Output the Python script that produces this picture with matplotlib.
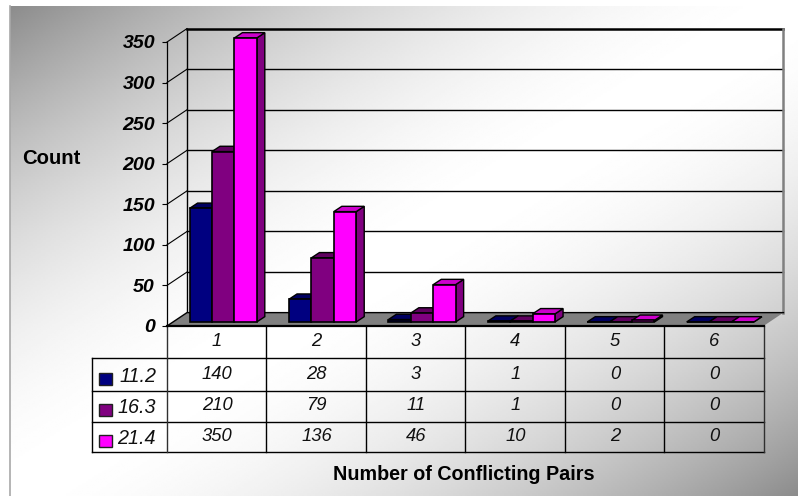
import numpy as np
import matplotlib
matplotlib.use("Agg")
import matplotlib.pyplot as plt

cats = ["1", "2", "3", "4", "5", "6"]
s_112 = [140, 28, 3, 1, 0, 0]
s_163 = [210, 79, 11, 1, 0, 0]
s_214 = [350, 136, 46, 10, 2, 0]
series_names = ["11.2", "16.3", "21.4"]
y_ticks = [0, 50, 100, 150, 200, 250, 300, 350]

all_series = [s_112, s_163, s_214]
face = ["#000080", "#800080", "#ff00ff"]
top = ["#000060", "#600060", "#cc00cc"]
side = ["#000050", "#500050", "#800080"]

plt.rcParams["font.family"] = ["Liberation Sans", "DejaVu Sans"]
W, H = 798, 496
fig = plt.figure(figsize=(W / 100, H / 100), dpi=100, facecolor="white")

# background layer in pixel coords, holds gradient and the data table
bg = fig.add_axes([0, 0, 1, 1])
bg.set_xlim(0, W)
bg.set_ylim(H, 0)
bg.axis("off")
xx, yy = np.meshgrid(np.linspace(0, 1, 400), np.linspace(0, 1, 250))
t = np.abs(xx + yy - 1)
grad = 1 - 0.45 * t ** 1.8
bg.imshow(grad, cmap="gray", vmin=0, vmax=1, extent=(9.5, W, H, 6), aspect="auto", interpolation="bilinear")
bg.set_xlim(0, W)
bg.set_ylim(H, 0)
bg.plot([9.5, 9.5], [6, H], color="#a8a8a8", lw=1.2)

x0, x1 = 167, 763.5
cw = (x1 - x0) / 6
row_y = [326, 358, 391, 422, 452]
for y in row_y[1:]:
    bg.plot([92, x1], [y, y], color="black", lw=1.0)
bg.plot([92, 92], [358, 452], color="black", lw=1.0)
for i in range(7):
    bg.plot([x0 + i * cw] * 2, [326, 452], color="#303030" if i in (0, 6) else "black", lw=1.0)

tfont = dict(fontsize=13.2, style="italic", ha="center", va="center", color="#101010")
for i, c in enumerate(cats):
    bg.text(x0 + (i + 0.5) * cw, 342, c, **tfont)
    for j, s in enumerate(all_series):
        bg.text(x0 + (i + 0.5) * cw + 0.5, [374.5, 405.5, 436.5][j], str(s[i]), **tfont)
for j, name in enumerate(series_names):
    ky = [373, 404, 435][j]
    bg.add_patch(plt.Rectangle((99, ky), 13, 12, fc=face[j], ec="#202020", lw=1.0))
    bg.text(156, ky + 3.5, name, fontsize=14.2, style="italic", ha="right", va="center", color="#101010")

bg.text(51.5, 159, "Count", fontsize=14.6, weight="bold", ha="center", va="center")
bg.text(464, 475, "Number of Conflicting Pairs", fontsize=14.2, weight="bold", ha="center", va="center")

# chart axes sits on the front plane of the 3d box
ax = fig.add_axes([x0 / W, 1 - 326 / H, (x1 - x0) / W, (326 - 42) / H])
ax.patch.set_visible(False)
ax.set_xlim(0, 6)
ax.set_ylim(0, 350)
for sp in ["top", "right", "bottom"]:
    ax.spines[sp].set_visible(False)
ax.spines["left"].set_linewidth(0.9)
ax.set_xticks([])
ax.set_yticks(y_ticks)
ax.tick_params(axis="y", length=3.6, width=0.8, pad=5, labelsize=14)
for lab in ax.get_yticklabels():
    lab.set_fontweight("bold")
    lab.set_fontstyle("italic")

dx, dy = 20 / cw, 16.5
# walls and floor
for v in y_ticks[1:]:
    ax.plot([0, dx], [v, v + dy], color="black", lw=0.8, clip_on=False, zorder=1)
    ax.plot([dx, 6 + dx], [v + dy, v + dy], color="black", lw=1.0 if v < 350 else 1.8, clip_on=False, zorder=1)
ax.plot([dx, dx], [0 + dy, 350 + dy], color="black", lw=1.0, clip_on=False, zorder=1)
ax.plot([6 + dx, 6 + dx], [dy, 350 + dy], color="#808080", lw=1.8, clip_on=False, zorder=1)
ax.fill([0, 6, 6 + dx, dx], [0, 0, dy, dy], color="#808080", clip_on=False, zorder=2, lw=0)
ax.plot([0, 6], [0, 0], color="black", lw=1.6, clip_on=False, zorder=2)
ax.plot([0, dx, 6 + dx], [0, dy, dy], color="black", lw=1.0, clip_on=False, zorder=2)

# 3d bars, drawn left to right so later ones cover the earlier sides
bw = 22.4 / cw
off_x, off_y = 6.5 / cw, 5
dep_x, dep_y = 8 / cw, 6.5
z = 3
for i in range(len(cats)):
    for j, s in enumerate(all_series):
        left = i + 0.5 + off_x + (j - 1.5) * bw
        v = s[i] + off_y
        ax.fill([left + bw, left + bw + dep_x, left + bw + dep_x, left + bw],
                [off_y, off_y + dep_y, v + dep_y, v], fc=side[j], ec="black", lw=1.0, zorder=z, clip_on=False)
        ax.fill([left, left + bw, left + bw + dep_x, left + dep_x],
                [v, v, v + dep_y, v + dep_y], fc=top[j], ec="black", lw=1.0, zorder=z, clip_on=False)
        ax.bar(left, s[i], bw, bottom=off_y, align="edge", color=face[j], edgecolor="black", lw=1.2, zorder=z + 0.5, clip_on=False)
        z += 1

fig.savefig("out.png", dpi=100)
